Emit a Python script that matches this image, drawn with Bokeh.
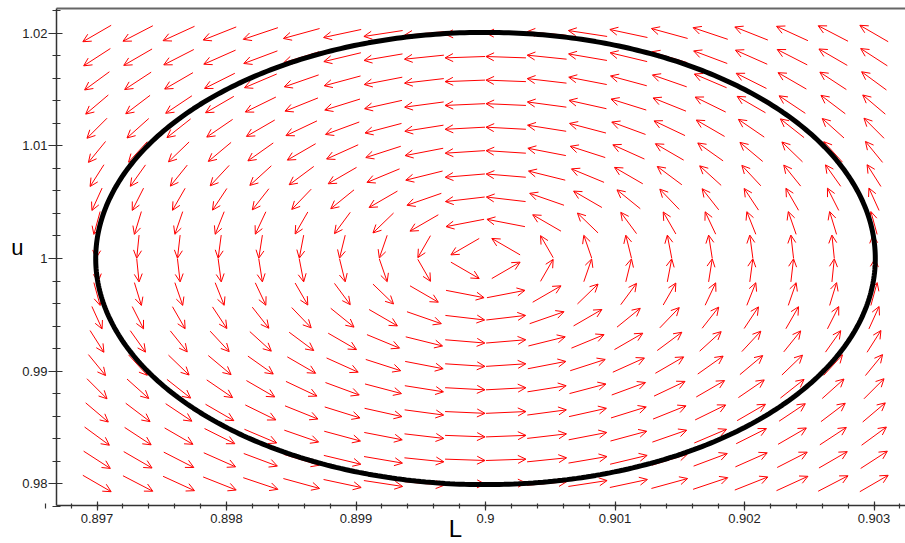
import numpy as np
from bokeh.plotting import figure
from bokeh.models import (Range1d, Arrow, OpenHead, ColumnDataSource, FixedTicker,
                          Label, LinearAxis)
from bokeh.embed import file_html
from bokeh.resources import INLINE

# ---- data ----
# direction field grid (20 x 20) of the system  L' = -kL (u - u0),  u' = ku (L - L0)
L_grid = np.linspace(0.897, 0.903, 20)
u_grid = np.linspace(0.98, 1.02, 20)
L0 = 0.9
u0 = 1.0
kL = 1.0
ku = 44.44
# closed trajectory (ellipse) through about (0.897, 1)
traj_center = (0.9, 1.0)
traj_semi_L = 0.00301
traj_semi_u = 0.0201

x_ticks = [0.897, 0.898, 0.899, 0.9, 0.901, 0.902, 0.903]
x_tick_labels = ["0.897", "0.898", "0.899", "0.9", "0.901", "0.902", "0.903"]
y_ticks = [0.98, 0.99, 1.0, 1.01, 1.02]
y_tick_labels = ["0.98", "0.99", "1", "1.01", "1.02"]

# plot box (axes) and full canvas view
box_x = (0.896687, 0.9032432)
box_y = (0.978044, 1.022222)
view_x = (0.8962548, 0.9032432)
view_y = (0.9746667, 1.0229333)

# ---- arrows ----
hx = L_grid[1] - L_grid[0]
hy = u_grid[1] - u_grid[0]
LL, UU = np.meshgrid(L_grid, u_grid)
f = -kL * (UU - u0)
g = ku * (LL - L0)
fx = f / hx
gy = g / hy
n = np.sqrt(fx ** 2 + gy ** 2)
n[n == 0] = 1
s = 0.98
dx = s * hx * fx / n / 2
dy = s * hy * gy / n / 2
src = ColumnDataSource(dict(
    x0=(LL - dx).ravel(), y0=(UU - dy).ravel(),
    x1=(LL + dx).ravel(), y1=(UU + dy).ravel(),
))

p = figure(width=905, height=543, x_range=Range1d(*view_x),
           y_range=Range1d(*view_y), output_backend="svg",
           toolbar_location=None, min_border=0,
           x_axis_location=None, y_axis_location=None)
p.outline_line_color = None
p.xgrid.visible = False
p.ygrid.visible = False
p.background_fill_color = "white"
p.border_fill_color = "white"

arrows = Arrow(end=OpenHead(size=8, line_color="#ff0000", line_width=1),
               x_start="x0", y_start="y0", x_end="x1", y_end="y1",
               source=src, line_color="#ff0000", line_width=1, level="underlay")
p.add_layout(arrows)

th = np.linspace(0, 2 * np.pi, 500)
p.line(traj_center[0] + traj_semi_L * np.cos(th),
       traj_center[1] + traj_semi_u * np.sin(th),
       line_color="black", line_width=5)

# axes
x_minor = list(np.round(np.arange(0.8966, 0.9034, 0.0002), 5))
y_minor = list(np.round(np.arange(0.978, 1.0225, 0.002), 4))

xaxis = LinearAxis(ticker=FixedTicker(ticks=x_ticks, minor_ticks=x_minor),
                   fixed_location=box_y[0], bounds=box_x)
yaxis = LinearAxis(ticker=FixedTicker(ticks=y_ticks, minor_ticks=y_minor),
                   fixed_location=box_x[0], bounds=box_y)
topline = LinearAxis(ticker=FixedTicker(ticks=[]), fixed_location=box_y[1],
                     bounds=box_x, major_tick_line_color=None,
                     minor_tick_line_color=None, major_label_text_color=None,
                     axis_line_color="#666666", axis_line_width=2)
xaxis.major_label_overrides = {t: l for t, l in zip(x_ticks, x_tick_labels)}
yaxis.major_label_overrides = {t: l for t, l in zip(y_ticks, y_tick_labels)}

for ax in (xaxis, yaxis):
    ax.axis_line_color = "#333333"
    ax.axis_line_width = 1.5
    ax.major_tick_line_color = "#333333"
    ax.minor_tick_line_color = "#333333"
    ax.major_tick_line_width = 1.2
    ax.minor_tick_line_width = 1.2
    ax.major_label_text_font = "Liberation Sans"
    ax.major_label_text_font_size = "13px"
    ax.major_label_text_color = "#222222"

xaxis.major_tick_in = 4
xaxis.major_tick_out = 5
xaxis.minor_tick_in = 2
xaxis.minor_tick_out = 3
xaxis.major_label_standoff = 3
yaxis.major_tick_in = 6
yaxis.major_tick_out = 8
yaxis.minor_tick_in = 4
yaxis.minor_tick_out = 4
yaxis.major_label_standoff = 1

p.add_layout(xaxis, "below")
p.add_layout(yaxis, "left")
p.add_layout(topline, "above")

p.add_layout(Label(x=0.8997683, y=0.976027, text="L", text_font="Liberation Sans",
                   text_font_size="24px", text_align="center",
                   text_baseline="middle", text_color="black"))
p.add_layout(Label(x=0.896386, y=1.000978, text="u", text_font="Liberation Sans",
                   text_font_size="22px", text_align="center",
                   text_baseline="middle", text_color="black"))

open("out.html", "w").write(file_html(p, INLINE))
